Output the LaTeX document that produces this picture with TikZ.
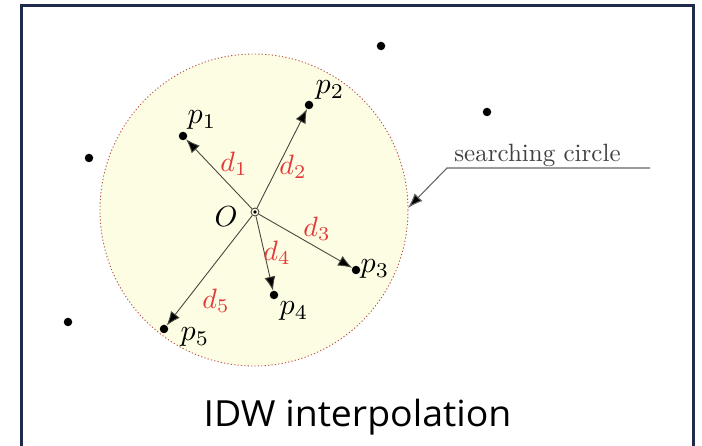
\documentclass[tikz,border=0pt]{standalone}
\usepackage{fontspec}
\usepackage{graphicx}
\newfontfamily\captionfont{Open Sans}
\usetikzlibrary{arrows.meta}
\definecolor{framecol}{HTML}{1F2A4C}
\definecolor{circfill}{HTML}{FDFDE3}
\definecolor{circline}{HTML}{B85050}
\definecolor{dred}{HTML}{E03A3A}
\definecolor{linecol}{HTML}{484840}
\tikzset{
  ptdot/.style={circle, fill=black, inner sep=0pt, minimum size=8.5pt},
  ocirc/.style={circle, draw=linecol, line width=0.9pt, inner sep=0pt, minimum size=8pt, fill=circfill},
  arr/.style={draw=linecol, line width=0.9pt, -{Latex[length=14pt,width=11pt,fill=black]}},
  plab/.style={inner sep=0pt},
  dlab/.style={inner sep=0pt, text=dred},
  callout/.style={draw=gray!80!black, line width=1.1pt},
}
\begin{document}
\begin{tikzpicture}[x=1pt,y=1pt]
\useasboundingbox (0,0) rectangle (702,-446);
\clip (0,0) rectangle (702,-446);
\draw[framecol, line width=3pt] (21.5,-5.5) rectangle (693.5,-480);
% searching circle
\draw[fill=circfill, draw=circline, line width=0.9pt, dash pattern=on 1.2pt off 2.2pt] (254,-210) ellipse [x radius=154, y radius=156];
% points
\node[ocirc] (O) at (255,-212) {};
\fill[black] (O.center) circle (1.8pt);
\node[ptdot] (p1) at (183,-136) {};
\node[ptdot] (p2) at (309,-105) {};
\node[ptdot] (p3) at (356,-270) {};
\node[ptdot] (p4) at (274,-295) {};
\node[ptdot] (p5) at (164,-329) {};
\node[ptdot] (q1) at (381,-46) {};
\node[ptdot] (q2) at (487,-112) {};
\node[ptdot] (q3) at (89,-158) {};
\node[ptdot] (q4) at (68,-322) {};
% arrows
\foreach \t in {p1,p2,p3,p4,p5} \draw[arr] (O) -- (\t);
% labels
\node[plab] (lO) at (226,-217) {\scalebox{2.9}{$O$}};
\node[plab] (lp1) at (202,-120) {\scalebox{3.0}{$p_1$}};
\node[plab] (lp2) at (330,-90) {\scalebox{3.0}{$p_2$}};
\node[plab] (lp3) at (375,-269) {\scalebox{3.0}{$p_3$}};
\node[plab] (lp4) at (294,-311) {\scalebox{3.0}{$p_4$}};
\node[plab] (lp5) at (195,-337) {\scalebox{3.0}{$p_5$}};
\node[dlab] (ld1) at (234,-164) {\scalebox{2.8}{$d_1$}};
\node[dlab] (ld2) at (293,-167) {\scalebox{2.8}{$d_2$}};
\node[dlab] (ld3) at (317,-229) {\scalebox{2.8}{$d_3$}};
\node[dlab] (ld4) at (277,-253) {\scalebox{2.8}{$d_4$}};
\node[dlab] (ld5) at (216,-301) {\scalebox{2.8}{$d_5$}};
% callout
\node[anchor=base, inner sep=0pt, text=black!75] (sc) at (537.5,-162) {\scalebox{2.5}{searching circle}};
\coordinate (u2) at (650,-168);
\coordinate (u1) at (447,-168);
\coordinate (tip) at (408,-208);
\draw[callout, -{Latex[length=15pt,width=11pt,fill=black]}] (u2) -- (u1) -- (tip);
% caption
\node[anchor=base, inner sep=0pt] (cap) at (357.5,-427) {\scalebox{1.04}[1]{\captionfont\fontsize{36}{40}\selectfont IDW interpolation}};
\end{tikzpicture}
\end{document}
